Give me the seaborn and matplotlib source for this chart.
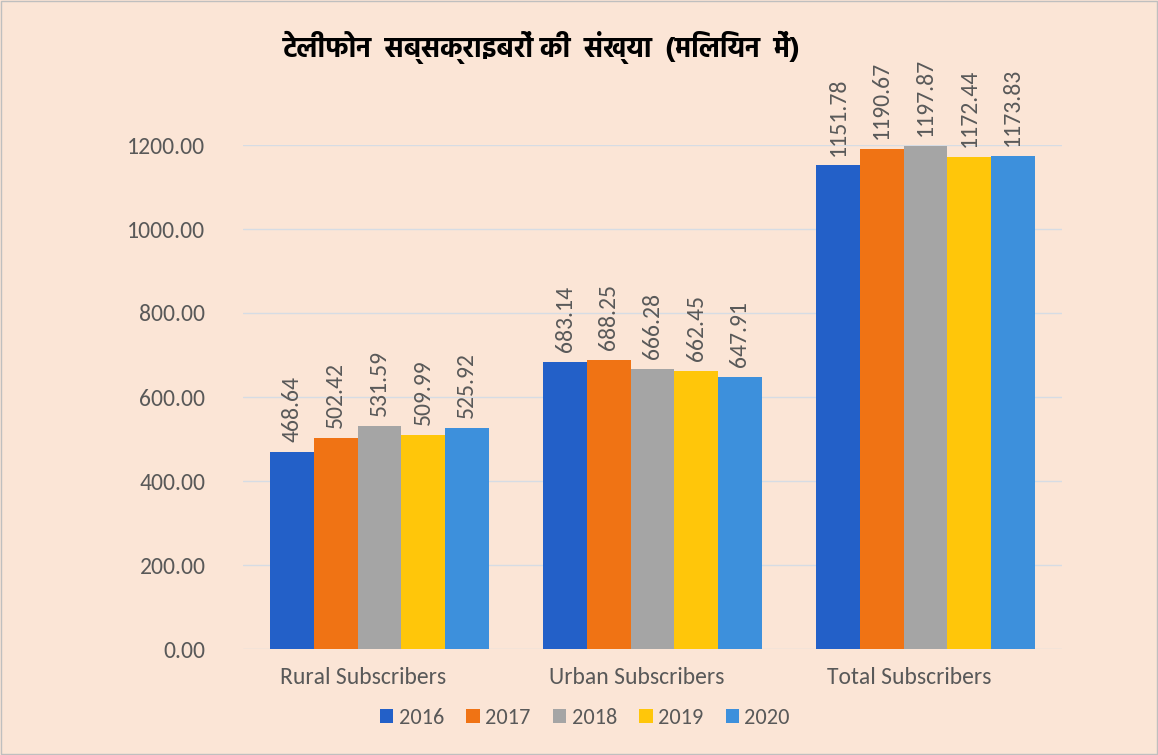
import matplotlib
matplotlib.use("Agg")
import os
import matplotlib.pyplot as plt
import matplotlib.transforms as mtransforms
from matplotlib import font_manager
import seaborn as sns
import pandas as pd

categories = ["Rural Subscribers", "Urban Subscribers", "Total Subscribers"]
years = ["2016", "2017", "2018", "2019", "2020"]
rural = [468.64, 502.42, 531.59, 509.99, 525.92]
urban = [683.14, 688.25, 666.28, 662.45, 647.91]
total = [1151.78, 1190.67, 1197.87, 1172.44, 1173.83]
yticks = [0, 200, 400, 600, 800, 1000, 1200]
title = "टेलीफोन  सब्सक्राइबरों की  संख्या  (मिलियन  में)"

colors = ["#2360C8", "#F07314", "#A5A5A5", "#FFC60A", "#3D90DC"]
bg = "#FBE5D6"
txt = "#595959"

files = font_manager.findSystemFonts()
bynames = {os.path.basename(f): f for f in files}


def pick(prefs):
    for p in prefs:
        for n in sorted(bynames):
            if n.startswith(p):
                return bynames[n]
    return None


deva_file = pick(["NotoSansDevanagari-Bold", "Hind-Bold", "Mukta-Bold",
                  "EkMukta-Bold", "Biryani-Bold", "FreeSansBold"])
latin_file = pick(["Carlito-Regular"])

rows = []
for cat, vals in zip(categories, [rural, urban, total]):
    for y, v in zip(years, vals):
        rows.append({"category": cat, "year": y, "value": v})
df = pd.DataFrame(rows)

sns.set_theme(style="white")
if latin_file:
    font_manager.fontManager.addfont(latin_file)
    lname = font_manager.FontProperties(fname=latin_file).get_name()
    plt.rcParams["font.family"] = [lname, "DejaVu Sans"]
    fs = 17
else:
    plt.rcParams["font.family"] = ["Open Sans", "DejaVu Sans"]
    fs = 14

fig = plt.figure(figsize=(11.58, 7.55), dpi=100, facecolor=bg)
ax = fig.add_axes([243 / 1158, 1 - 649 / 755, 819 / 1158, 504 / 755])
ax.set_facecolor(bg)

sns.barplot(data=df, x="category", y="value", hue="year", palette=colors,
            width=0.8, saturation=1, ax=ax, legend=True, edgecolor="none")

for c in ax.containers:
    ax.bar_label(c, fmt="%.2f", rotation=90, padding=7, fontsize=fs, color=txt)

ax.set_ylim(0, 1200)
ax.set_yticks(yticks)
ax.set_yticklabels([f"{t:.2f}" for t in yticks])
ax.set_xlim(-0.5, 2.5)
ax.tick_params(axis="y", length=0, pad=27, labelsize=fs, labelcolor=txt)
ax.tick_params(axis="x", length=0, pad=13, labelsize=fs, labelcolor=txt)
shift = mtransforms.ScaledTranslation(-16 / 100, 0, fig.dpi_scale_trans)
for lab in ax.get_xticklabels():
    lab.set_transform(lab.get_transform() + shift)
ax.set_xlabel("")
ax.set_ylabel("")
for s in ax.spines.values():
    s.set_visible(False)
for t in yticks:
    ax.axhline(t, color="#D6DCE4", lw=1, zorder=0)
ax.set_axisbelow(True)

h, l = ax.get_legend_handles_labels()
ax.get_legend().remove()
fig.legend(h, l, loc="center", bbox_to_anchor=(585 / 1158, 1 - 718 / 755), ncol=5,
           frameon=False, handlelength=0.6, handleheight=0.6, handletextpad=0.25,
           columnspacing=1.0, fontsize=16, labelcolor=txt)

if deva_file:
    tprop = font_manager.FontProperties(fname=deva_file, size=20)
else:
    tprop = font_manager.FontProperties(family="DejaVu Sans", weight="bold", size=18)
fig.text(542 / 1158, 1 - 47 / 755, title, ha="center", va="center",
         color="black", fontproperties=tprop)

fig.patches.append(plt.Rectangle((0.001, 0.001), 0.998, 0.998, transform=fig.transFigure,
                                 fill=False, edgecolor="#BFBFBF", lw=1))
fig.savefig("out.png", dpi=100, facecolor=bg)
